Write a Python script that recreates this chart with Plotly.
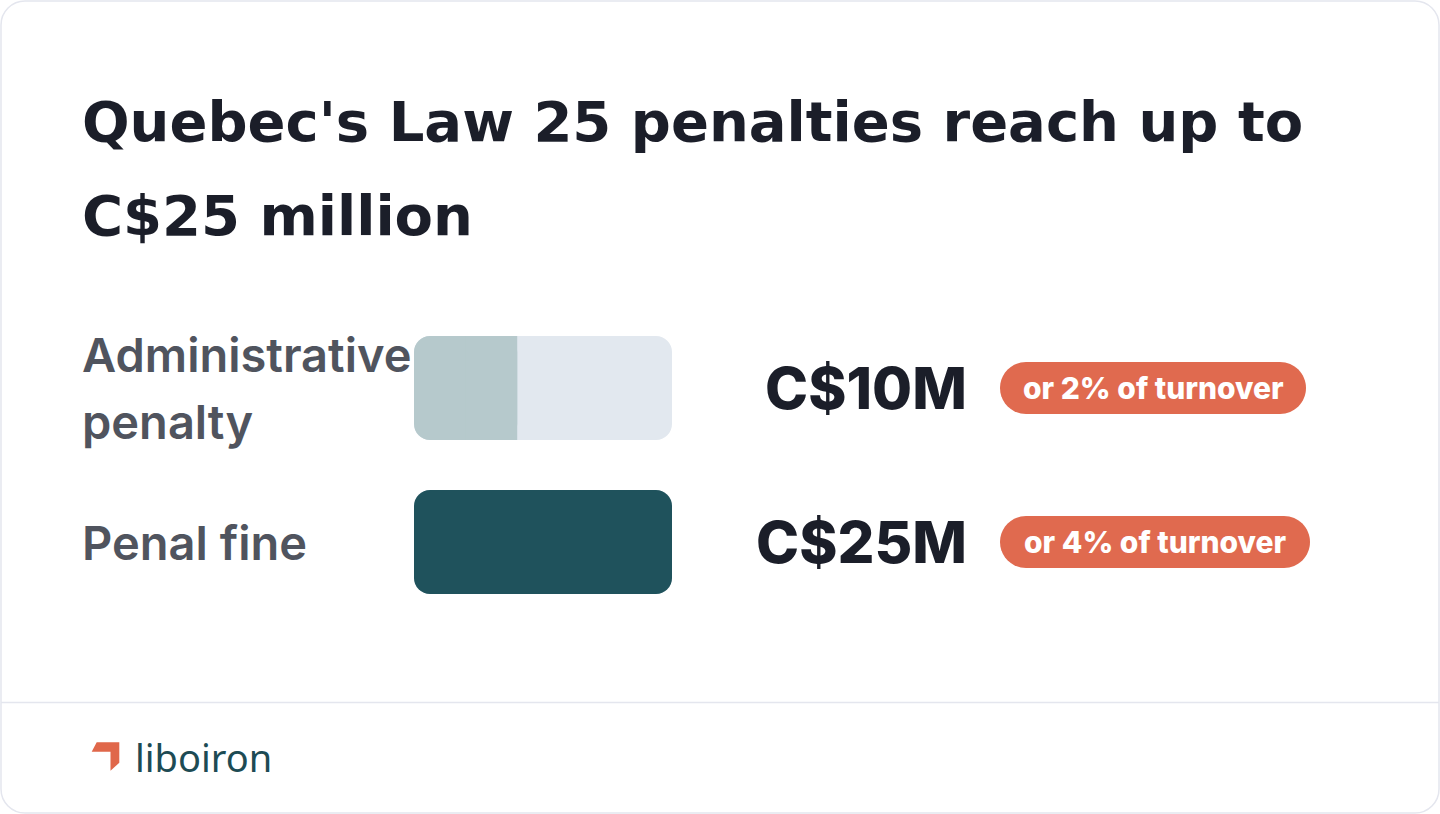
import plotly.graph_objects as go

W, H = 1440, 814

# ---- data ----
title_lines = ["Quebec's Law 25 penalties reach up to", "C$25 million"]
categories = ["Administrative<br>penalty", "Penal fine"]
max_penalty_musd = [10, 25]          # C$ million
scale_max = 25
value_labels = ["C$10M", "C$25M"]
turnover_notes = ["or 2% of turnover", "or 4% of turnover"]
fill_colors = ["#b6c9cc", "#1f525c"]
track_color = "#e2e8ef"
brand = "liboiron"

def px(x):
    return x / W

def py(y):
    return 1 - y / H

def rrect(x0, y0, x1, y1, r):
    k = 0.5523 * r
    pts = [
        ("M", [(x0 + r, y0)]),
        ("L", [(x1 - r, y0)]),
        ("C", [(x1 - r + k, y0), (x1, y0 + r - k), (x1, y0 + r)]),
        ("L", [(x1, y1 - r)]),
        ("C", [(x1, y1 - r + k), (x1 - r + k, y1), (x1 - r, y1)]),
        ("L", [(x0 + r, y1)]),
        ("C", [(x0 + r - k, y1), (x0, y1 - r + k), (x0, y1 - r)]),
        ("L", [(x0, y0 + r)]),
        ("C", [(x0, y0 + r - k), (x0 + r - k, y0), (x0 + r, y0)]),
    ]
    s = ""
    for cmd, ps in pts:
        s += cmd + " " + " ".join(f"{px(a):.6f},{py(b):.6f}" for a, b in ps) + " "
    return s + "Z"

fig = go.Figure()

n = len(categories)
ypos = list(range(n))
bar_w = 0.675
rad = 16

# full-scale track (rounded on all corners)
fig.add_trace(go.Bar(y=ypos, x=[scale_max] * n, base=[0] * n, orientation="h", width=bar_w,
                     marker=dict(color=track_color, line=dict(width=0), cornerradius=rad),
                     hoverinfo="skip", showlegend=False))
# value bar (rounded on all corners)
fig.add_trace(go.Bar(y=ypos, x=max_penalty_musd, base=[0] * n, orientation="h", width=bar_w,
                     marker=dict(color=fill_colors, line=dict(width=0), cornerradius=rad),
                     hovertemplate="C$%{x}M<extra></extra>", showlegend=False))
# square off the value end where the bar stops short of the scale maximum
part = [i for i, v in enumerate(max_penalty_musd) if v < scale_max]
fig.add_trace(go.Bar(y=part, x=[max_penalty_musd[i] / 2 for i in part],
                     base=[max_penalty_musd[i] / 2 for i in part], orientation="h", width=bar_w,
                     marker=dict(color=[fill_colors[i] for i in part], line=dict(width=0), cornerradius=0),
                     hoverinfo="skip", showlegend=False))

fig.update_layout(
    width=W, height=H,
    margin=dict(l=0, r=0, t=0, b=0),
    paper_bgcolor="white", plot_bgcolor="rgba(0,0,0,0)",
    barmode="overlay",
    xaxis=dict(domain=[px(414), px(672)], range=[0, scale_max], visible=False, fixedrange=True),
    yaxis=dict(domain=[py(619), py(311)], range=[n - 0.5, -0.5], visible=False, fixedrange=True),
    font=dict(family="Inter, sans-serif"),
    showlegend=False,
)

shapes = []
# card
shapes.append(dict(type="path", xref="paper", yref="paper", path=rrect(1, 1, 1439, 813, 24),
                   line=dict(color="#e4e6ee", width=1.5), fillcolor="rgba(0,0,0,0)", layer="below"))
# footer divider
shapes.append(dict(type="line", xref="paper", yref="paper", x0=px(1), x1=px(1439), y0=py(702.5), y1=py(702.5),
                   line=dict(color="#e4e6ee", width=1.5)))
# pills
pill_boxes = [(1000, 362, 1306, 414), (1000, 516, 1310, 568)]
for (x0, y0, x1, y1) in pill_boxes:
    shapes.append(dict(type="path", xref="paper", yref="paper", path=rrect(x0, y0, x1, y1, (y1 - y0) / 2),
                       line=dict(width=0), fillcolor="#e06a4f"))
# logo mark
logo = [(96.7, 742.3), (119.3, 742.3), (119.3, 762.7), (110.5, 770.7), (110.5, 751.7), (91.7, 751.7)]
shapes.append(dict(type="path", xref="paper", yref="paper",
                   path="M " + " L ".join(f"{px(a):.6f},{py(b):.6f}" for a, b in logo) + " Z",
                   line=dict(width=0), fillcolor="#e0674a"))
fig.update_layout(shapes=shapes)

ann = []
# title
for i, (t, yc) in enumerate(zip(title_lines, [122, 216])):
    ann.append(dict(text=t, xref="paper", yref="paper", x=px(80), y=py(yc), xanchor="left", yanchor="middle",
                    showarrow=False, font=dict(family="DejaVu Sans", size=56, weight=700, color="#1b1e29")))
# category labels
for i, c in enumerate(categories):
    parts = c.split("<br>")
    shifts = [0] if len(parts) == 1 else [33.5, -33.5]
    for p, s in zip(parts, shifts):
        ann.append(dict(text=p, xref="paper", yref="y", x=px(80), y=i, yshift=s, xanchor="left",
                        yanchor="middle", showarrow=False,
                        font=dict(family="Inter", size=47, weight=600, color="#50545e")))
# value labels
for i, v in enumerate(value_labels):
    ann.append(dict(text=v, xref="paper", yref="y", x=px(969), y=i, xanchor="right", yanchor="middle",
                    showarrow=False, font=dict(family="Inter", size=58, weight=800, color="#1b1e29")))
# pill text
for i, t in enumerate(turnover_notes):
    x0, y0, x1, y1 = pill_boxes[i]
    ann.append(dict(text=t, xref="paper", yref="paper", x=px((x0 + x1) / 2), y=py((y0 + y1) / 2),
                    xanchor="center", yanchor="middle", showarrow=False,
                    font=dict(family="Inter", size=30, weight=800, color="white")))
# brand
ann.append(dict(text=brand, xref="paper", yref="paper", x=px(133), y=py(757), xanchor="left", yanchor="middle",
                showarrow=False, font=dict(family="Noto Sans", size=38, weight=400, color="#1d4b54")))
fig.update_layout(annotations=ann)

fig.write_html("out.html")
